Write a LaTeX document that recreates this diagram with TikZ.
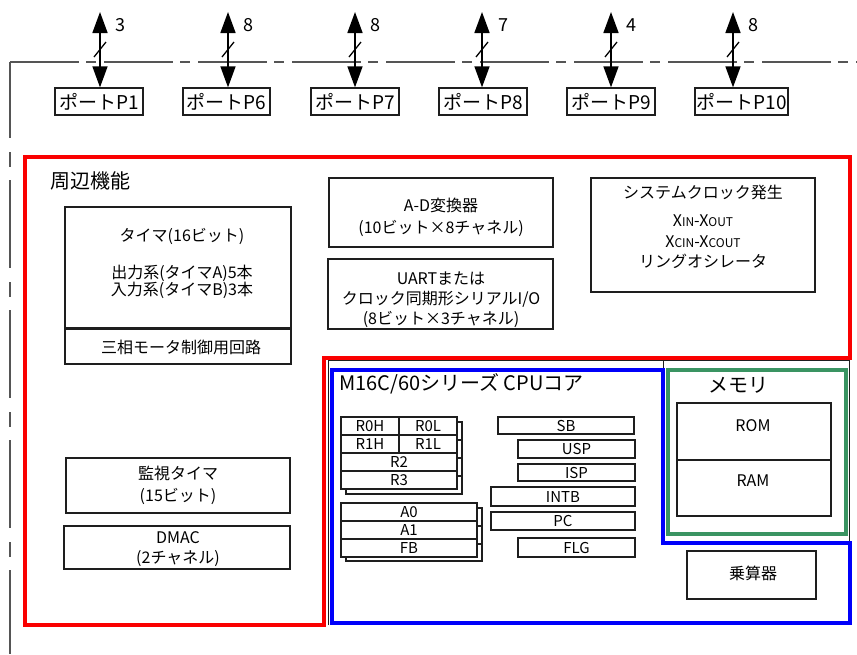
\documentclass[tikz,border=0pt]{standalone}
\usepackage{fontspec}
\setmainfont{Noto Sans CJK JP}
\usetikzlibrary{arrows.meta}
\definecolor{hlred}{RGB}{250,0,0}
\definecolor{hlblue}{RGB}{0,0,250}
\definecolor{hlgreen}{RGB}{58,148,98}
\definecolor{ink}{RGB}{30,30,30}
\definecolor{framegray}{RGB}{85,85,85}
\begin{document}
\begin{tikzpicture}[x=1pt,y=-1pt,
  box/.style={draw=ink, line width=1.3pt, inner sep=0pt, fill=white},
  reg/.style={box, font=\fontsize{15}{15}\selectfont},
  t/.style={inner sep=0pt, text height=12.3pt, text depth=0pt, font=\fontsize{16}{16}\selectfont},
  ttl/.style={inner sep=0pt, text height=15.5pt, text depth=0pt, font=\fontsize{20}{20}\selectfont},
  port/.style={box, minimum height=27pt, font=\fontsize{19}{19}\selectfont},
  num/.style={inner sep=0pt, text height=13pt, text depth=0pt, font=\fontsize{18}{18}\selectfont},
  dbl/.style={{Triangle[length=21pt,width=15pt]}-{Triangle[length=21pt,width=15pt]}, line width=1.6pt, draw=black},
  slash/.style={line width=1.3pt, draw=black},
  hl/.style={line width=3.5pt, line join=miter}
]
\useasboundingbox (0,0) rectangle (857,654);

% outer dash-dot frame
\draw[framegray, line width=1.5pt, dash pattern=on 69pt off 7pt on 10pt off 8pt] (10,62) -- (857,62);
\draw[framegray, line width=1.5pt, dash pattern=on 88pt off 14pt on 15pt off 13pt, dash phase=12pt] (10,62) -- (10,654);

% ports
\node[port, minimum width=88pt] (p1) at (99,101.5) {ポートP1};
\node[port, minimum width=87pt] (p6) at (226.5,101.5) {ポートP6};
\node[port, minimum width=88pt] (p7) at (355,101.5) {ポートP7};
\node[port, minimum width=88pt] (p8) at (483,101.5) {ポートP8};
\node[port, minimum width=88pt] (p9) at (611,101.5) {ポートP9};
\node[port, minimum width=93pt] (p10) at (741.5,101.5) {ポートP10};

\coordinate (a1) at (100,12);
\coordinate (a6) at (228,12);
\coordinate (a7) at (355,12);
\coordinate (a8) at (482,12);
\coordinate (a9) at (611,12);
\coordinate (a10) at (733,12);

\draw[dbl] (a1) -- (a1 |- p1.north);
\draw[dbl] (a6) -- (a6 |- p6.north);
\draw[dbl] (a7) -- (a7 |- p7.north);
\draw[dbl] (a8) -- (a8 |- p8.north);
\draw[dbl] (a9) -- (a9 |- p9.north);
\draw[dbl] (a10) -- (a10 |- p10.north);

\foreach \a in {a1,a6,a7,a8,a9,a10}{
  \draw[slash] ([shift={(-6,45)}]\a) -- ([shift={(6,30)}]\a);
}
\node[num] (n1) at ([shift={(20,13)}]a1) {3};
\node[num] (n6) at ([shift={(20,13)}]a6) {8};
\node[num] (n7) at ([shift={(20,13)}]a7) {8};
\node[num] (n8) at ([shift={(21,13)}]a8) {7};
\node[num] (n9) at ([shift={(20,13)}]a9) {4};
\node[num] (n10) at ([shift={(20,13)}]a10) {8};

% thin original frames under highlights
\draw[ink, line width=1pt] (328,625) -- (328,360) -- (849,360) -- (849,543);
\draw[ink, line width=1pt] (663,360) -- (663,543) -- (849,543);

% peripheral section
\node[ttl, anchor=west] (periT) at (50,181) {周辺機能};

\node[box, minimum width=226pt, minimum height=121pt] (tim) at (178,267.5) {};
\node[box, minimum width=226pt, minimum height=36pt] (mot) at (178,346) {};
\draw[ink, line width=2.6pt] (tim.south west) -- (tim.south east);
\node[t] (tim1) at (182,235) {タイマ(16ビット)};
\node[t] (tim2) at (182,272) {出力系(タイマA)5本};
\node[t] (tim3) at (182,289) {入力系(タイマB)3本};
\node[t] (mot1) at (181,347) {三相モータ制御用回路};

\node[box, minimum width=224pt, minimum height=55pt] (wdt) at (178,485.5) {};
\node[t] (wdt1) at (178,473) {監視タイマ};
\node[t] (wdt2) at (178,495) {(15ビット)};

\node[box, minimum width=226pt, minimum height=43pt] (dmac) at (177,547.5) {};
\node[t] (dmac1) at (178,537) {DMAC};
\node[t] (dmac2) at (178,557) {(2チャネル)};

\node[box, minimum width=224pt, minimum height=69pt] (ad) at (441,212.5) {};
\node[t] (ad1) at (441,205) {A-D変換器};
\node[t] (ad2) at (441,227) {(10ビット×8チャネル)};

\node[box, minimum width=225pt, minimum height=70pt] (uart) at (440.5,294) {};
\node[t] (uart1) at (441,278) {UARTまたは};
\node[t] (uart2) at (441,298) {クロック同期形シリアルI/O};
\node[t] (uart3) at (441,318) {(8ビット×3チャネル)};

\node[box, minimum width=224pt, minimum height=114pt] (clk) at (703,235) {};
\node[t] (clk1) at (703,192) {システムクロック発生};
\node[t] (clk2) at (703,220) {X{\fontsize{12}{12}\selectfont IN}-X{\fontsize{12}{12}\selectfont OUT}};
\node[t] (clk3) at (703,241) {X{\fontsize{12}{12}\selectfont CIN}-X{\fontsize{12}{12}\selectfont COUT}};
\node[t] (clk4) at (703,261) {リングオシレータ};

% CPU core
\node[ttl, anchor=west] (cpuT) at (339,383) {M16C/60シリーズ CPUコア};

\node[box, minimum width=116pt, minimum height=72pt] (g1b) at (404,458) {};
\draw[ink, line width=1.3pt] (346,440) -- (462,440) (346,458) -- (462,458) (346,476) -- (462,476);
\node[reg, minimum width=58pt, minimum height=18pt] (r0h) at (370,426) {R0H};
\node[reg, minimum width=58pt, minimum height=18pt] (r0l) at (428,426) {R0L};
\node[reg, minimum width=58pt, minimum height=18pt] (r1h) at (370,444) {R1H};
\node[reg, minimum width=58pt, minimum height=18pt] (r1l) at (428,444) {R1L};
\node[reg, minimum width=116pt, minimum height=18pt] (r2) at (399,462) {R2};
\node[reg, minimum width=116pt, minimum height=18pt] (r3) at (399,480) {R3};

\node[box, minimum width=136pt, minimum height=53pt] (g2b) at (414,534.5) {};
\draw[ink, line width=1.3pt] (346,526) -- (482,526) (346,544) -- (482,544);
\node[reg, minimum width=136pt, minimum height=18pt] (a0) at (409,512) {A0};
\node[reg, minimum width=136pt, minimum height=18pt] (a1r) at (409,530) {A1};
\node[reg, minimum width=136pt, minimum height=18pt] (fb) at (409,548) {FB};

\node[reg, minimum width=136pt, minimum height=17pt] (sb) at (566,425.5) {SB};
\node[reg, minimum width=117pt, minimum height=18pt] (usp) at (576.5,449) {USP};
\node[reg, minimum width=117pt, minimum height=17pt] (isp) at (576.5,472.5) {ISP};
\node[reg, minimum width=144pt, minimum height=19pt] (intb) at (563,496.5) {INTB};
\node[reg, minimum width=144pt, minimum height=18pt] (pc) at (563,521) {PC};
\node[reg, minimum width=117pt, minimum height=19pt] (flg) at (576.5,547.5) {FLG};

% memory
\node[ttl] (memT) at (738,385) {メモリ};
\node[box, minimum width=154pt, minimum height=57pt] (rom) at (754,431.5) {};
\node[box, minimum width=154pt, minimum height=56pt] (ram) at (754,488) {};
\node[t] (rom1) at (753,425) {ROM};
\node[t] (ram1) at (753,480) {RAM};

\node[box, minimum width=129pt, minimum height=48pt] (mul) at (751.5,575) {};
\node[t] (mul1) at (753,573) {乗算器};

% highlight outlines
\draw[hl, hlred] (25,157) -- (850,157) -- (850,358) -- (324,358) -- (324,625) -- (25,625) -- cycle;
\draw[hl, hlblue] (332,370) -- (663,370) -- (663,543) -- (850,543) -- (850,623) -- (332,623) -- cycle;
\draw[hl, hlgreen] (668,370) rectangle (846,534);
\end{tikzpicture}
\end{document}
